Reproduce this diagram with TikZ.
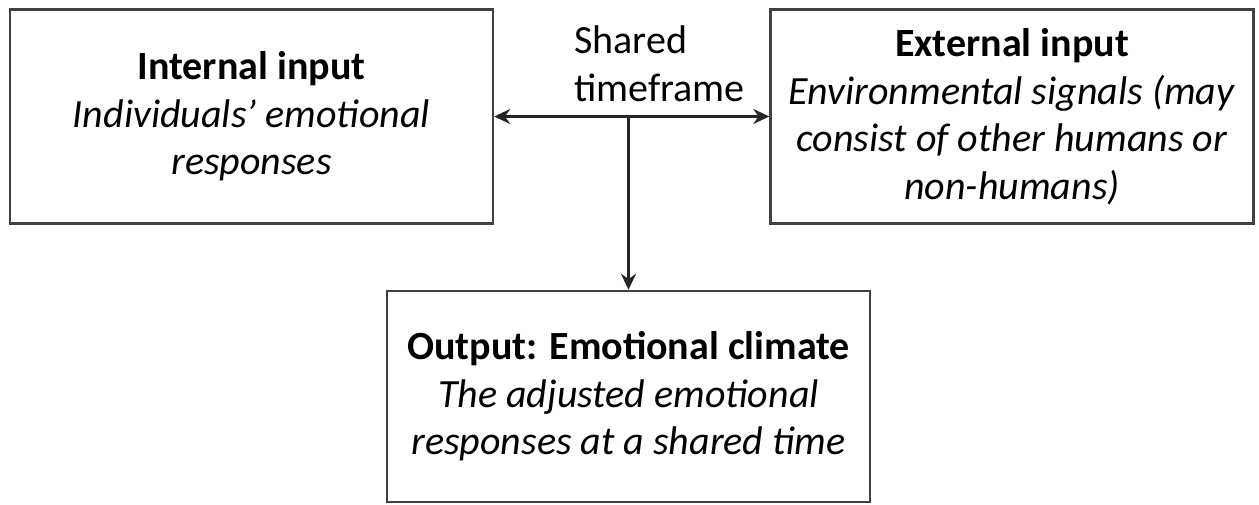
\documentclass[tikz,border=0pt]{standalone}
\usepackage{fontspec}
\setmainfont{Carlito}
\usepackage{tikz}
\usetikzlibrary{arrows.meta, positioning}

\begin{document}
\begin{tikzpicture}[x=1pt,y=-1pt,>={Stealth[length=16pt,width=15pt]},
  thick,box node/.style={rectangle,draw=black!75,line width=2.4pt,
    minimum width=483pt,minimum height=214pt,align=center,
    font=\fontsize{40}{47.5}\selectfont}]

  \useasboundingbox (0,0) rectangle (1259,505);

  \node[box node] (internal) at (251.5,116.5)
    {\textbf{Internal input}\\ \textit{Individuals’ emotional}\\ \textit{responses}};
  \node[box node] (external) at (1012,116.5)
    {\textbf{External input}\\ \textit{Environmental signals (may}\\
     \textit{consist of other humans or}\\ \textit{non-humans)}};
  \node[box node,minimum height=211pt] (output) at (628.5,396.5)
    {\textbf{Output: Emotional climate}\\ \textit{The adjusted emotional}\\
     \textit{responses at a shared time}};
  \node[align=left,anchor=west,font=\fontsize{40}{48}\selectfont,inner sep=0pt]
    (shared) at (574,64) {Shared\\timeframe};

  \coordinate (split) at (internal.east -| output.north);

  \draw[<->,line width=2.4pt,black!85] (internal.east) -- (external.west);
  \draw[->,line width=2.4pt,black!85] (split) -- (output.north);
\end{tikzpicture}
\end{document}
